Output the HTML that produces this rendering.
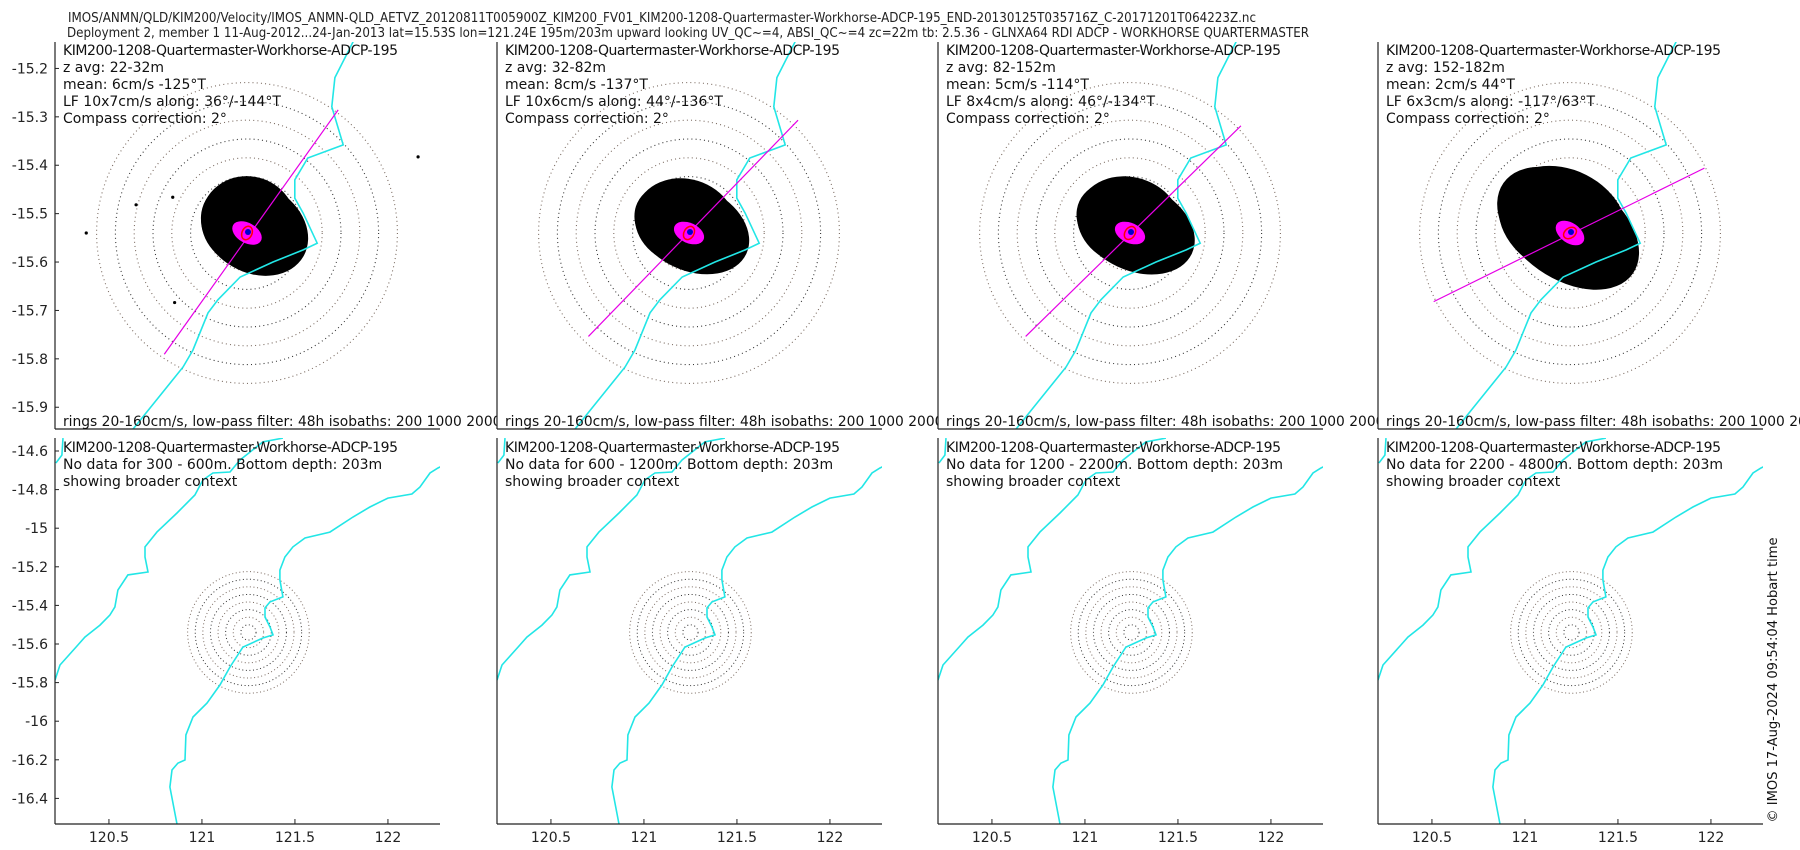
<!DOCTYPE html>
<html><head><meta charset="utf-8"><style>
html,body{margin:0;padding:0;background:#fff;}
svg{display:block;font-family:"DejaVu Sans","Liberation Sans",sans-serif;}
</style></head><body>
<svg id="fig" width="1800" height="850" viewBox="0 0 1800 850" xmlns="http://www.w3.org/2000/svg">
<rect width="1800" height="850" fill="#fff"/>
<text x="662" y="22" font-size="13" text-anchor="middle" textLength="1188" lengthAdjust="spacingAndGlyphs" fill="#222">IMOS/ANMN/QLD/KIM200/Velocity/IMOS_ANMN-QLD_AETVZ_20120811T005900Z_KIM200_FV01_KIM200-1208-Quartermaster-Workhorse-ADCP-195_END-20130125T035716Z_C-20171201T064223Z.nc</text>
<text x="688" y="37" font-size="13" text-anchor="middle" textLength="1242" lengthAdjust="spacingAndGlyphs" fill="#222">Deployment 2, member 1 11-Aug-2012...24-Jan-2013 lat=15.53S lon=121.24E 195m/203m upward looking UV_QC~=4, ABSI_QC~=4 zc=22m tb: 2.5.36 - GLNXA64 RDI ADCP - WORKHORSE QUARTERMASTER</text>
<g id="panels"></g>
<text transform="translate(1777,680) rotate(-90)" font-size="13" text-anchor="middle" textLength="285" lengthAdjust="spacingAndGlyphs" fill="#111">© IMOS 17-Aug-2024 09:54:04 Hobart time</text>
</svg>
<script>
// ---- data ----
const panelDepths = ["22-32m","32-82m","82-152m","152-182m"];
const meanText = ["6cm/s -125°T","8cm/s -137°T","5cm/s -114°T","2cm/s 44°T"];
const lfText = ["10x7cm/s along: 36°/-144°T","10x6cm/s along: 44°/-136°T","8x4cm/s along: 46°/-134°T","6x3cm/s along: -117°/63°T"];
const noDataRanges = ["300 - 600m","600 - 1200m","1200 - 2200m","2200 - 4800m"];
const blobEast = [8,3,6,-2];
const blobNorth = [5,5,6,5];
const blobMajor = [60,64,66,84];
const blobMinor = [47,45,46,54];
const blobRot = [30,25,25,35];
const axisE1 = [97,116,118,143];
const axisN1 = [131,120,114,69];
const axisE2 = [-88,-107,-111,-145];
const axisN2 = [-129,-110,-110,-73];
const outE = [182,-171,-118,-77,-79];
const outN = [81,0,30,-74,38];
const ringSpeeds = [20,40,60,80,100,120,140,160];
const isoZLon = [121.454,121.419,121.413,121.435,121.367,121.342,121.342,121.358,121.385,121.358,121.30,121.237,121.194,121.175,121.146,121.127,121.031];
const isoZLat = [-15.145,-15.219,-15.279,-15.358,-15.385,-15.430,-15.468,-15.499,-15.561,-15.575,-15.60,-15.631,-15.678,-15.705,-15.782,-15.817,-15.945];
const isoALon = [120.866,120.828,120.839,120.871,120.909,120.914,120.952,121.027,121.097,121.151,121.220,121.328,121.382,121.366,121.339,121.339,121.366,121.435,121.419,121.419,121.446,121.489,121.554,121.688,121.812,121.903,122.000,122.129,122.172,122.226,122.269,122.35];
const isoALat = [-16.533,-16.341,-16.253,-16.217,-16.201,-16.071,-15.978,-15.906,-15.812,-15.719,-15.616,-15.569,-15.553,-15.512,-15.460,-15.413,-15.382,-15.356,-15.268,-15.217,-15.149,-15.097,-15.051,-15.020,-14.942,-14.890,-14.844,-14.823,-14.787,-14.714,-14.688,-14.65];
const isoBLon = [120.210,120.237,120.333,120.371,120.452,120.505,120.532,120.548,120.602,120.710,120.694,120.694,120.758,120.866,120.962,121.005,121.059,121.151,121.204,121.328,121.435];
const isoBLat = [-15.787,-15.709,-15.605,-15.564,-15.502,-15.450,-15.408,-15.320,-15.242,-15.227,-15.149,-15.097,-15.020,-14.921,-14.828,-14.750,-14.714,-14.709,-14.647,-14.553,-14.533];
const isoCLon = [120.253,120.247,120.215];
const isoCLat = [-14.533,-14.621,-14.662];
const topYTicks = [-15.2,-15.3,-15.4,-15.5,-15.6,-15.7,-15.8,-15.9];
const botYTicks = [-14.6,-14.8,-15,-15.2,-15.4,-15.6,-15.8,-16,-16.2,-16.4];
const botYLabels = ["-14.6","-14.8","-15","-15.2","-15.4","-15.6","-15.8","-16","-16.2","-16.4"];
const botXTicks = [120.5,121,121.5,122];
const botXLabels = ["120.5","121","121.5","122"];
const mooringLon = 121.25, mooringLat = -15.54;

// ---- layout ----
const NS="http://www.w3.org/2000/svg";
const panelLeft=[55,497,938,1378], PW=385;
const topT=42, topB=429, botT=438, botB=824;
const pxPerCm = 0.94;
function mk(tag,attrs,parent){const e=document.createElementNS(NS,tag);for(const k in attrs)e.setAttribute(k,attrs[k]);parent.appendChild(e);return e;}
const tyS=484, txS=520, tcy=233;
function topX(L,lon){return L+192+(lon-mooringLon)*txS;}
function topY(lat){return tcy-(lat-mooringLat)*tyS;}
const bxS=186, byS=193;
function botX(L,lon){return L+(lon-120.21)*bxS;}
function botY(lat){return 451-(lat+14.6)*byS;}
function pathFrom(lons,lats,fx,fy){return lons.map((v,i)=>(i?'L':'M')+fx(v).toFixed(1)+','+fy(lats[i]).toFixed(1)).join('');}

const root=document.getElementById('panels');
const defs=mk('defs',{},root);
for(let p=0;p<4;p++){
  const L=panelLeft[p];
  let cp=mk('clipPath',{id:'ct'+p},defs); mk('rect',{x:L,y:topT,width:PW,height:topB-topT},cp);
  cp=mk('clipPath',{id:'cb'+p},defs); mk('rect',{x:L,y:botT,width:PW,height:botB-botT},cp);

  const gT=mk('g',{},root);
  
  
  mk('rect',{x:L,y:topT,width:PW,height:topB-topT,fill:'#fff'},gT);
  const cl=mk('g',{'clip-path':'url(#ct'+p+')'},gT);
  const cx=L+192, cy=tcy;
  ringSpeeds.forEach((s,i)=>{
    const c=mk('circle',{cx:cx,cy:cy,r:s*pxPerCm,fill:'none',stroke:i%2?'#7a6a60':'#333','stroke-width':1.1,'stroke-dasharray':'1 3.2'},cl);
    
    
  });
  const bx=cx+blobEast[p]*pxPerCm, by=cy-blobNorth[p]*pxPerCm;
  const blob=mk('ellipse',{cx:bx,cy:by,rx:blobMajor[p]*pxPerCm,ry:blobMinor[p]*pxPerCm,transform:`rotate(${blobRot[p]} ${bx} ${by})`,fill:'#000'},cl);
  
  
  mk('ellipse',{cx:bx-8,cy:by-4,rx:blobMajor[p]*pxPerCm*0.85,ry:blobMinor[p]*pxPerCm*1.02,transform:`rotate(${blobRot[p]-8} ${bx} ${by})`,fill:'#000'},cl);
  if(p===0){
    outE.forEach((e,i)=>{
      const d=mk('circle',{cx:cx+e*pxPerCm,cy:cy-outN[i]*pxPerCm,r:1.6,fill:'#000'},cl);
      
      
    });
  }
  const iso=mk('path',{d:pathFrom(isoZLon,isoZLat,v=>topX(L,v),topY),fill:'none',stroke:'#22e6e6','stroke-width':1.6},cl);
  
  
  const ax=mk('line',{x1:cx+axisE1[p]*pxPerCm,y1:cy-axisN1[p]*pxPerCm,x2:cx+axisE2[p]*pxPerCm,y2:cy-axisN2[p]*pxPerCm,stroke:'#e600e6','stroke-width':1.2},cl);
  
  
  const lf=mk('ellipse',{cx:cx,cy:cy,rx:16,ry:10,transform:`rotate(${blobRot[p]} ${cx} ${cy})`,fill:'#f0f'},cl);
  
  
  mk('ellipse',{cx:cx,cy:cy,rx:7,ry:5,transform:`rotate(${-axisN1[p]/2} ${cx} ${cy})`,fill:'none',stroke:'#f00','stroke-width':1.5},cl);
  mk('circle',{cx:cx+1,cy:cy-1,r:3,fill:'#00c'},cl);
  mk('line',{x1:L,y1:topT,x2:L,y2:topB,stroke:'#222','stroke-width':1.2},gT);
  mk('line',{x1:L,y1:topB,x2:L+PW,y2:topB,stroke:'#222','stroke-width':1.2},gT);
  if(p===0){
    topYTicks.forEach(t=>{
      const y=topY(t);
      mk('line',{x1:L,y1:y,x2:L+4,y2:y,stroke:'#222'},gT);
      const tx=mk('text',{x:L-7,y:y+5,'font-size':14,'text-anchor':'end',fill:'#222'},gT);
      tx.textContent=t.toFixed(1);
      
      
    });
  }
  const lines=["KIM200-1208-Quartermaster-Workhorse-ADCP-195","z avg: "+panelDepths[p],"mean: "+meanText[p],"LF "+lfText[p],"Compass correction: 2°"];
  lines.forEach((s,i)=>{
    const t=mk('text',{x:L+8,y:55+i*17,'font-size':14,fill:'#111'},gT);
    if(i===0)t.setAttribute('textLength','335');
    t.textContent=s;
    
    
  });
  const rt=mk('text',{x:L+8,y:426,'font-size':14,fill:'#111',textLength:478,lengthAdjust:'spacingAndGlyphs'},gT);
  rt.textContent="rings 20-160cm/s, low-pass filter: 48h isobaths: 200 1000 2000 4000";
  
  

  const gB=mk('g',{},root);
  
  
  mk('rect',{x:L,y:botT,width:PW,height:botB-botT,fill:'#fff'},gB);
  const cb=mk('g',{'clip-path':'url(#cb'+p+')'},gB);
  const mx=botX(L,mooringLon), my=botY(mooringLat);
  ringSpeeds.forEach((s,i)=>{
    const c=mk('circle',{cx:mx,cy:my,r:s*0.38,fill:'none',stroke:i%2?'#7a6a60':'#333','stroke-width':1,'stroke-dasharray':'1 2.6'},cb);
    
    
  });
  [[isoALon,isoALat,'isobath-200m'],[isoBLon,isoBLat,'isobath-1000m'],[isoCLon,isoCLat,'isobath-2000m']].forEach(a=>{
    const pth=mk('path',{d:pathFrom(a[0],a[1],v=>botX(L,v),botY),fill:'none',stroke:'#22e6e6','stroke-width':1.6},cb);
    
    
  });
  mk('line',{x1:L,y1:botT,x2:L,y2:botB,stroke:'#222','stroke-width':1.2},gB);
  mk('line',{x1:L,y1:botB,x2:L+PW,y2:botB,stroke:'#222','stroke-width':1.2},gB);
  botXTicks.forEach((t,i)=>{
    const x=botX(L,t);
    mk('line',{x1:x,y1:botB,x2:x,y2:botB-5,stroke:'#222'},gB);
    const tx=mk('text',{x:x,y:842,'font-size':14,'text-anchor':'middle',fill:'#222'},gB);
    tx.textContent=botXLabels[i];
    
    
  });
  if(p===0){
    botYTicks.forEach((t,i)=>{
      const y=botY(t);
      mk('line',{x1:L,y1:y,x2:L+4,y2:y,stroke:'#222'},gB);
      const tx=mk('text',{x:L-7,y:y+5,'font-size':14,'text-anchor':'end',fill:'#222'},gB);
      tx.textContent=botYLabels[i];
      
      
    });
  }
  const bl=["KIM200-1208-Quartermaster-Workhorse-ADCP-195","No data for "+noDataRanges[p]+". Bottom depth: 203m","showing broader context"];
  bl.forEach((s,i)=>{
    const t=mk('text',{x:L+8,y:452+i*17,'font-size':14,fill:'#111'},gB);
    if(i===0)t.setAttribute('textLength','335');
    t.textContent=s;
    
    
  });
}
</script>
</body></html>
